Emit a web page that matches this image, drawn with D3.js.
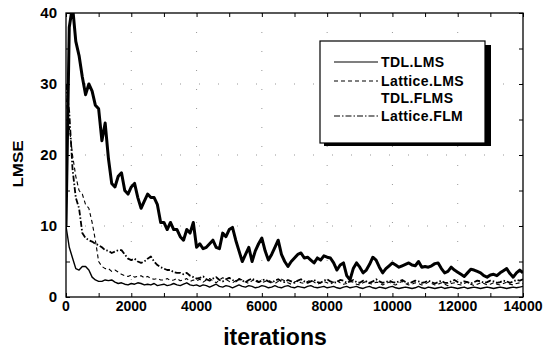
<!DOCTYPE html>
<html><head><meta charset="utf-8">
<script src="https://cdn.jsdelivr.net/npm/d3@7"></script>
<style>body{margin:0;background:#fff}svg{display:block}text{font-family:"Liberation Sans",Arial,sans-serif;font-weight:bold;fill:#000}</style>
</head><body><svg id="c" width="557" height="354"></svg>
<script>
const seriesNames = ["TDL.LMS","Lattice.LMS","TDL.FLMS","Lattice.FLM"];
const xTicks = [0,2000,4000,6000,8000,10000,12000,14000];
const yTicks = [0,10,20,30,40];
const iterStep = 100;
const tdlLms = [
10,38,41,36,34,31,28.5,30,29,27,
26.5,22,24.5,19.5,16,15.5,17,17.5,15,14.5,
15.5,16,14,12.5,13.5,14.5,14,14,13,10.5,
10.5,9.5,10.5,9.5,9.5,8.5,8,9.5,9,10.5,
7,7.5,6.8,7,7.5,8,7,6.8,9,8.5,
9.5,9.8,8,6.5,5,6,7,5,6.5,7.5,
8.3,6.5,5.2,6,7,8,6,5,4.3,5,
5.5,6,6.2,5.5,5.6,5.2,4.8,5.5,5.2,5.8,
5.6,5.5,4.8,3.8,4.5,4.8,3,2.4,4,4.8,
4.2,3.4,3.8,4.6,5.6,5.2,4.2,3.4,4,4.4,
4.8,4.5,4.2,4.4,4.6,4.8,4.5,4.4,5,4.2,
4.3,4.2,4.4,4.7,4.8,4,3.4,3.6,4.2,3.8,
3.5,3.2,2.9,3.4,3.9,3.8,3.6,3.4,3,2.8,
3.1,3.2,3,3.4,3.7,4,3.3,2.8,3.4,3.8,
3.4];
const latticeLms = [
28,24,20,17,15,14.5,13,12.5,10.5,8,
5,4.3,4,4,3.6,3.8,3.5,3.2,3,2.9,
3.1,2.8,2.9,3,2.7,2.9,2.6,2.5,2.6,2.4,
2.4,2.6,2.3,2.4,2.6,2.3,2.4,2.6,2.2,2.4,
2.3,
2.5,2.1,2.4,2.6,2.3,2.0,2.4,2.7,2.5,2.2,
2.0,2.3,2.6,2.4,2.1,1.9,2.3,2.5,2.2,2.0,
2.2,2.4,2.1,1.9,2.2,2.5,2.3,2.0,1.8,2.1,
2.3,2.0,1.9,2.2,2.4,2.1,1.8,2.0,2.2,2.0,
1.8,2.1,2.3,2.0,1.8,1.9,2.2,2.1,1.8,1.7,
2.0,2.2,1.9,1.8,2.1,2.0,1.7,1.9,2.1,1.8,
1.7,2.0,2.2,1.9,1.7,1.8,2.0,1.9,1.7,1.8,
2.1,1.9,1.7,1.8,2.0,1.8,1.6,1.9,2.0,1.8,
1.7,1.9,2.1,1.8,1.6,1.8,2.0,1.9,1.7,1.8,
2.0,1.8,1.7,1.9,2.1,1.8,1.7,1.9,2.0,1.9];
const tdlFlms = [
10,7,5.5,4,3.8,4.3,4.3,3.8,2.8,2.4,
2.2,2.2,2.4,2.3,2.4,2.1,1.9,2,1.8,1.7,
1.9,1.8,2,1.9,1.7,1.8,1.7,1.9,1.6,1.7,
1.8,1.6,1.7,1.9,1.7,1.6,1.8,2,1.7,1.6,
1.7,
1.5,1.7,1.6,1.4,1.6,1.8,1.5,1.4,1.6,1.5,
1.3,1.5,1.7,1.5,1.4,1.6,1.5,1.3,1.4,1.6,
1.5,1.3,1.4,1.6,1.4,1.3,1.5,1.6,1.4,1.3,
1.5,1.4,1.3,1.5,1.6,1.4,1.3,1.4,1.5,1.3,
1.4,1.5,1.3,1.2,1.4,1.5,1.3,1.4,1.5,1.3,
1.2,1.4,1.5,1.3,1.2,1.4,1.3,1.2,1.4,1.5,
1.3,1.2,1.3,1.4,1.3,1.2,1.3,1.5,1.3,1.2,
1.4,1.3,1.2,1.3,1.4,1.2,1.3,1.4,1.3,1.2,
1.3,1.4,1.2,1.3,1.4,1.3,1.2,1.3,1.4,1.3,
1.2,1.3,1.4,1.3,1.2,1.3,1.4,1.3,1.4,1.5];
const latticeFlm = [
30,26,18,14,12.5,9,8.3,8,7.8,7.5,
7.3,7,6.6,6.5,6.2,6.4,6.6,6.6,6,5.4,
5.2,5.4,5,4.8,5,5.4,5.7,5,4.5,4.2,
4,3.8,3.8,3.5,3.4,3.4,3.2,3.4,3,2.8,
2.6,
2.7,2.9,2.5,2.3,2.6,2.8,2.4,2.2,2.5,2.7,
2.4,2.2,2.5,2.3,2.1,2.4,2.6,2.3,2.1,2.3,
2.5,2.2,2.0,2.3,2.5,2.2,2.1,2.4,2.2,2.0,
2.3,2.5,2.2,2.0,2.2,2.4,2.1,2.0,2.3,2.5,
2.2,2.0,2.1,2.4,2.3,2.0,2.2,2.4,2.1,2.0,
2.3,2.2,2.0,2.2,2.5,2.2,2.0,2.1,2.3,2.1,
2.0,2.2,2.4,2.1,1.9,2.1,2.3,2.2,2.0,2.1,
2.3,2.1,1.9,2.1,2.3,2.0,2.0,2.2,2.4,2.1,
2.0,2.2,2.1,1.9,2.1,2.3,2.2,2.0,2.1,2.3,
2.2,2.0,2.1,2.3,2.2,2.0,2.2,2.4,2.3,2.5];

const svg = d3.select("#c");
const L = 66, R = 523, T = 13, B = 297;
const x = d3.scaleLinear().domain([0,14000]).range([L,R]);
const y = d3.scaleLinear().domain([0,40]).range([B,T]);

svg.append("defs").append("clipPath").attr("id","clip")
  .append("rect").attr("x",L).attr("y",T).attr("width",R-L).attr("height",B-T);

// sparse dotted grid
const grid = svg.append("g").attr("stroke","#000").attr("stroke-width",1).attr("stroke-dasharray","1,18").attr("opacity",0.4);
xTicks.slice(1,-1).forEach(t=>grid.append("line").attr("x1",x(t)).attr("x2",x(t)).attr("y1",T).attr("y2",B));
yTicks.slice(1,-1).forEach(t=>grid.append("line").attr("x1",L).attr("x2",R).attr("y1",y(t)).attr("y2",y(t)));

const styles = {
  "TDL.LMS":{data:tdlLms,w:3,dash:null},
  "Lattice.LMS":{data:latticeLms,w:1.1,dash:"4,3"},
  "TDL.FLMS":{data:tdlFlms,w:1.4,dash:null},
  "Lattice.FLM":{data:latticeFlm,w:1.8,dash:"6,2,1.5,2"}
};
const line = d3.line().x((d,i)=>x(i*iterStep)).y(d=>y(d));
const plot = svg.append("g").attr("clip-path","url(#clip)");
["TDL.FLMS","Lattice.FLM","Lattice.LMS","TDL.LMS"].forEach(n=>{
  const s = styles[n];
  plot.append("path").datum(s.data).attr("d",line).attr("fill","none")
    .attr("stroke","#000").attr("stroke-width",s.w).attr("stroke-linejoin","round")
    .attr("stroke-dasharray",s.dash);
});

// axes (inward ticks on all sides)
const fmt = d3.format("d");
svg.append("g").attr("transform",`translate(0,${B})`)
  .call(d3.axisBottom(x).tickValues(d3.range(0,14001,1000)).tickSizeInner(-4).tickSizeOuter(0).tickFormat(""))
  .call(g=>g.select(".domain").remove());
svg.append("g").attr("transform",`translate(0,${T})`)
  .call(d3.axisTop(x).tickValues(d3.range(0,14001,1000)).tickSizeInner(-4).tickSizeOuter(0).tickFormat(""))
  .call(g=>g.select(".domain").remove());
svg.append("g").attr("transform",`translate(${L},0)`)
  .call(d3.axisLeft(y).tickValues(d3.range(0,41,5)).tickSizeInner(-4).tickSizeOuter(0).tickFormat(""))
  .call(g=>g.select(".domain").remove());
svg.append("g").attr("transform",`translate(${R},0)`)
  .call(d3.axisRight(y).tickValues(d3.range(0,41,5)).tickSizeInner(-4).tickSizeOuter(0).tickFormat(""))
  .call(g=>g.select(".domain").remove());
svg.append("rect").attr("x",L).attr("y",T).attr("width",R-L).attr("height",B-T)
  .attr("fill","none").attr("stroke","#000").attr("stroke-width",1.3);

// tick labels
svg.append("g").selectAll("text").data(xTicks).join("text")
  .attr("x",d=>x(d)).attr("y",311).attr("text-anchor","middle").attr("font-size",14).text(fmt);
svg.append("g").selectAll("text").data(yTicks).join("text")
  .attr("x",57).attr("y",d=>y(d)+5).attr("text-anchor","end").attr("font-size",15).text(fmt);

// axis titles
svg.append("text").attr("x",275).attr("y",345).attr("text-anchor","middle")
  .attr("font-size",23).text("iterations");
svg.append("text").attr("transform","translate(23,164) rotate(-90)").attr("text-anchor","middle")
  .attr("font-size",15).attr("textLength",47).attr("lengthAdjust","spacingAndGlyphs").text("LMSE");

// legend
const lg = svg.append("g");
lg.append("rect").attr("x",324).attr("y",45).attr("width",167).attr("height",101).attr("fill","#000");
lg.append("rect").attr("x",320).attr("y",41).attr("width",165).attr("height",102)
  .attr("fill","#fff").attr("stroke","#000").attr("stroke-width",1.2);
const rowsY = [62,81,98,116];
seriesNames.forEach((n,i)=>{
  const s = styles[n];
  if (n !== "TDL.FLMS") {
    lg.append("line").attr("x1",334).attr("x2",378).attr("y1",rowsY[i]).attr("y2",rowsY[i])
      .attr("stroke","#000").attr("stroke-width",n==="TDL.LMS"?1.2:1.1).attr("stroke-dasharray",s.dash);
  }
  lg.append("text").attr("x",381).attr("y",rowsY[i]+5).attr("font-size",14)
    .attr("letter-spacing",0.4).text(n);
});
</script></body></html>
